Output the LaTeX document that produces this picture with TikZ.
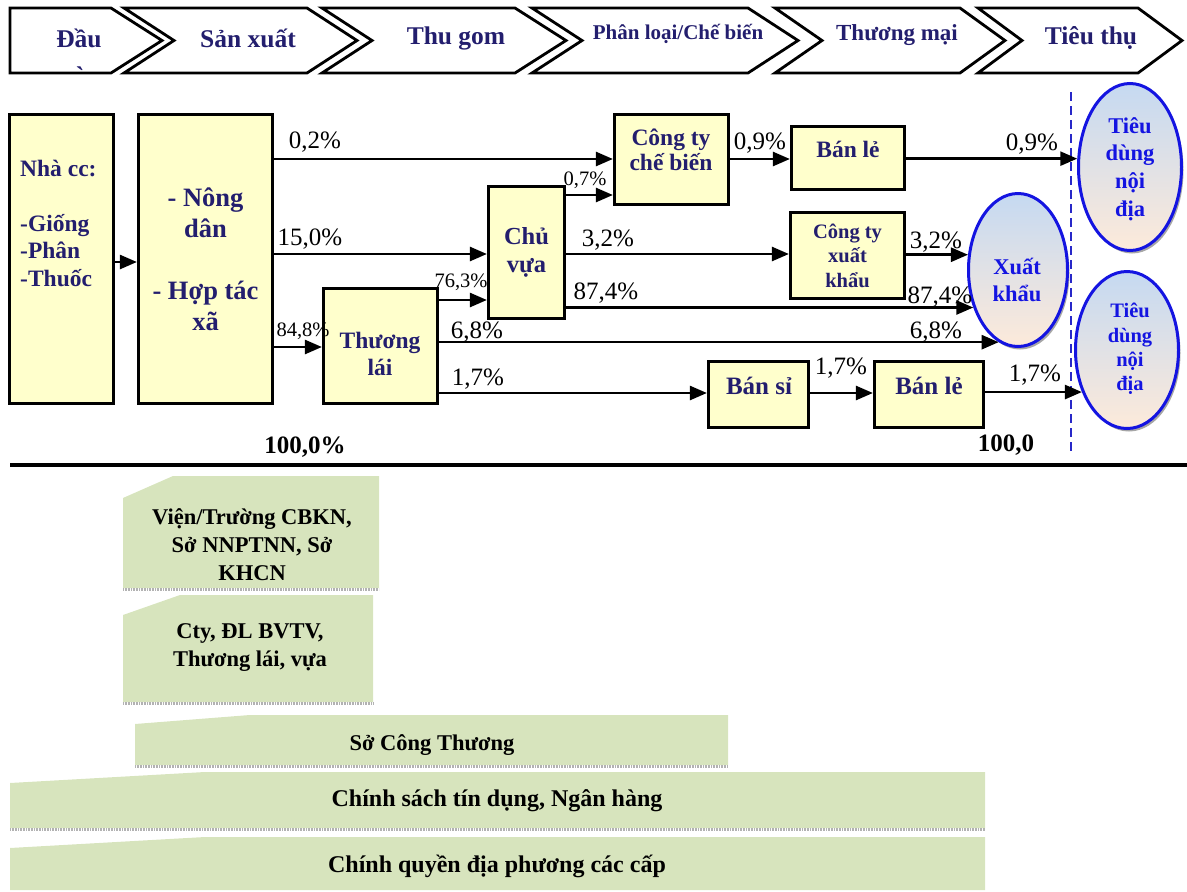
\documentclass[tikz,border=0pt]{standalone}
\usepackage{fontspec}
\setmainfont{Liberation Serif}
\usetikzlibrary{arrows.meta,shapes.geometric,shadows,calc}
\definecolor{navy}{RGB}{35,30,110}
\definecolor{boxyellow}{RGB}{255,255,204}
\definecolor{ellblue}{RGB}{20,20,225}
\definecolor{elltop}{RGB}{197,217,241}
\definecolor{ellbot}{RGB}{253,234,218}
\definecolor{greenfill}{RGB}{215,228,189}
\definecolor{dashblue}{RGB}{40,40,200}
\newcommand{\fs}[2]{\fontsize{#1}{#2}\selectfont}
\begin{document}
\begin{tikzpicture}[x=1pt,y=-1pt,
  chev/.style={draw=black, line width=2.8pt, fill=white, line join=miter},
  ctext/.style={text=navy, inner sep=0pt, font=\bfseries\fs{25.5}{28}},
  box/.style={draw=black, line width=3.2pt, fill=boxyellow, inner sep=0pt},
  btext/.style={text=navy, inner sep=0pt, align=center},
  pct/.style={inner sep=0pt, font=\fs{25}{28}},
  spct/.style={inner sep=0pt, font=\fs{20.5}{24}},
  tot/.style={inner sep=0pt, font=\bfseries\fs{25}{28}},
  arr/.style={line width=2.6pt, -{Triangle[length=17pt,width=14pt]}},
  ell/.style={ellipse, draw=ellblue, line width=3pt, top color=elltop, bottom color=ellbot, inner sep=0pt,
    drop shadow={shadow xshift=2pt, shadow yshift=-3pt, opacity=0.35, fill=black}},
  etext/.style={text=ellblue, inner sep=0pt, align=center},
  gbox/.style={fill=greenfill},
  gshadow/.style={draw=gray!60, line width=2.2pt, dash pattern=on 1pt off 0.6pt},
  gtext/.style={inner sep=0pt, align=center, font=\bfseries\fs{22.5}{28}},
  dline/.style={draw=dashblue, line width=1.5pt, dash pattern=on 9pt off 5pt}
]
\useasboundingbox (0,0) rectangle (1187,892);

% ---------- top chevrons ----------
\draw[chev] (10,8) -- (111,8) -- (162,40.5) -- (111,73) -- (10,73) -- cycle;
\draw[chev] (124,8) -- (307,8) -- (357,40.5) -- (307,73) -- (124,73) -- (174,40.5) -- cycle;
\draw[chev] (322,8) -- (515,8) -- (566,40.5) -- (515,73) -- (322,73) -- (372,40.5) -- cycle;
\draw[chev] (532,8) -- (748,8) -- (798,40.5) -- (748,73) -- (532,73) -- (582,40.5) -- cycle;
\draw[chev] (775,8) -- (960,8) -- (1005,40.5) -- (960,73) -- (775,73) -- (822,40.5) -- cycle;
\draw[chev] (978,8) -- (1138,8) -- (1182,40.5) -- (1138,73) -- (978,73) -- (1022,40.5) -- cycle;

\node[ctext] (h1) at (79,38) {Đầu};
\node[ctext] (h1b) at (80,76) {\addfontfeatures{Ligatures=TeXOff}`};
\node[ctext] (h2) at (248,38) {Sản xuất};
\node[ctext] (h3) at (456,38) {Thu gom};
\node[ctext, font=\bfseries\fs{21}{24}] (h4) at (678,34) {Phân loại/Chế biến};
\node[ctext, font=\bfseries\fs{23}{26}] (h5) at (897,35) {Thương mại};
\node[ctext] (h6) at (1091,38) {Tiêu thụ};

% ---------- boxes ----------
\node[box, minimum width=104pt, minimum height=289pt] (NCC) at (61.5,259) {};
\node[btext, align=left, anchor=west, font=\bfseries\fs{23.5}{27.5}] (NCCt) at (20,223)
  {Nhà cc:\\[27.5pt]-Giống\\-Phân\\-Thuốc};
\node[box, minimum width=134pt, minimum height=289pt, font=\bfseries\fs{26.5}{31}, text=navy, align=center] (ND) at (205.5,259)
  {- Nông\\dân\\[31pt]- Hợp tác\\xã};
\node[box, minimum width=114pt, minimum height=115pt] (TL) at (380.5,346) {};
\node[btext, font=\bfseries\fs{23.5}{27}] (TLt) at (380,354) {Thương\\lái};
\node[box, minimum width=76pt, minimum height=132pt, font=\bfseries\fs{24.5}{28}, text=navy, align=center] (CV) at (526.5,252.5) {Chủ\\vựa};
\node[box, minimum width=114pt, minimum height=90pt] (CB) at (671.5,159.5) {};
\node[btext, font=\bfseries\fs{23.5}{25}] (CBt) at (671,150) {Công ty\\chế biến};
\node[box, minimum width=113pt, minimum height=63pt] (BL1) at (848,158) {};
\node[btext, font=\bfseries\fs{23.5}{26}] (BL1t) at (848,149) {Bán lẻ};
\node[box, minimum width=114pt, minimum height=86pt, font=\bfseries\fs{20.5}{24.5}, text=navy, align=center] (CXK) at (847.5,255.5) {Công ty\\xuất\\khẩu};
\node[box, minimum width=100pt, minimum height=66pt] (BS) at (758.5,394.5) {};
\node[btext, font=\bfseries\fs{25}{27}] (BSt) at (759,386) {Bán sỉ};
\node[box, minimum width=109pt, minimum height=66pt] (BL2) at (929,394.5) {};
\node[btext, font=\bfseries\fs{25}{27}] (BL2t) at (929,386) {Bán lẻ};

% ---------- dashed divider ----------
\coordinate (d1) at (1071,92);
\coordinate (d2) at (1071,452);
\draw[dline] (d1) -- (d2);

% ---------- ellipses ----------
\node[ell, minimum width=103pt, minimum height=167pt] (TD1) at (1130,167) {};
\node[etext, font=\bfseries\fs{22.5}{27.7}] (TD1t) at (1130,169) {Tiêu\\dùng\\nội\\địa};
\node[ell, minimum width=99pt, minimum height=153pt] (XK) at (1018,270) {};
\node[etext, font=\bfseries\fs{22.5}{27}] (XKt) at (1017,280) {Xuất\\khẩu};
\node[ell, minimum width=103pt, minimum height=157pt] (TD2) at (1127,350) {};
\node[etext, font=\bfseries\fs{20.5}{24.3}] (TD2t) at (1130,349) {Tiêu\\dùng\\nội\\địa};

% ---------- arrows ----------
\draw[arr] (NCC.east |- 0,262) -- (ND.west |- 0,262);
\draw[arr] (ND.east |- 0,159) -- (CB.west |- 0,159);
\draw[arr] (ND.east |- 0,254) -- (CV.west |- 0,254);
\draw[arr] (ND.east |- 0,347) -- (TL.west |- 0,347);
\draw[arr] (TL.east |- 0,300) -- (CV.west |- 0,300);
\draw[arr] (CV.east |- 0,195) -- (CB.west |- 0,195);
\draw[arr] (CB.east |- 0,159) -- (BL1.west |- 0,159);
\draw[arr] (BL1.east |- TD1.171) -- (TD1.171);
\draw[arr] (CV.east |- 0,254) -- (CXK.west |- 0,254);
\draw[arr] (CXK.east |- XK.163) -- (XK.163);
\draw[arr] (CV.east |- XK.220) -- (XK.220);
\draw[arr] (TL.east |- XK.255) -- (XK.255);
\draw[arr] (TL.east |- 0,393) -- (BS.west |- 0,393);
\draw[arr] (BS.east |- 0,393) -- (BL2.west |- 0,393);
\draw[arr] (BL2.east |- TD2.223) -- (TD2.223);

% ---------- percentages ----------
\node[pct] (p1) at (315,142) {0,2\%};
\node[pct] (p2) at (310,239) {15,0\%};
\node[spct] (p3) at (303,331) {84,8\%};
\node[spct] (p4) at (461,282) {76,3\%};
\node[pct] (p5) at (477,332) {6,8\%};
\node[pct] (p6) at (478,379) {1,7\%};
\node[spct] (p7) at (585,180) {0,7\%};
\node[pct] (p8) at (608,240) {3,2\%};
\node[pct] (p9) at (606,293) {87,4\%};
\node[pct] (p10) at (760,143) {0,9\%};
\node[pct] (p11) at (841,368) {1,7\%};
\node[pct] (p12) at (1032,144) {0,9\%};
\node[pct] (p13) at (936,242) {3,2\%};
\node[pct] (p14) at (940,297) {87,4\%};
\node[pct] (p15) at (936,332) {6,8\%};
\node[pct] (p16) at (1035,375) {1,7\%};
\node[tot] (t1) at (305,447) {100,0\%};
\node[tot] (t2) at (1006,445) {100,0};

% ---------- separator ----------
\coordinate (s1) at (10,465);
\coordinate (s2) at (1187,465);
\draw[line width=3.5pt] (s1) -- (s2);

% ---------- green support boxes ----------
\fill[gbox] (123,498) -- (173,476) -- (379,476) -- (379,588) -- (123,588) -- cycle;
\draw[gshadow] (123,589.5) -- (379,589.5);
\node[gtext] (g1) at (252,545) {Viện/Trường CBKN,\\Sở NNPTNN, Sở\\KHCN};

\fill[gbox] (123,615) -- (180,595) -- (373,595) -- (373,702) -- (123,702) -- cycle;
\draw[gshadow] (123,703.5) -- (373,703.5);
\node[gtext] (g2) at (250,648) {Cty, ĐL BVTV,\\Thương lái, vựa};

\fill[gbox] (135,724) -- (250,715) -- (728,715) -- (728,765) -- (135,765) -- cycle;
\draw[gshadow] (135,766.5) -- (728,766.5);
\node[gtext] (g3) at (432,745) {Sở Công Thương};

\fill[gbox] (10,783) -- (205,772) -- (985,772) -- (985,828) -- (10,828) -- cycle;
\draw[gshadow] (10,829.5) -- (985,829.5);
\node[gtext, font=\bfseries\fs{24}{28}] (g4) at (497,801) {Chính sách tín dụng, Ngân hàng};

\fill[gbox] (10,848) -- (205,837) -- (985,837) -- (985,890) -- (10,890) -- cycle;
\node[gtext, font=\bfseries\fs{24}{28}] (g5) at (497,866) {Chính quyền địa phương các cấp};
\end{tikzpicture}
\end{document}
